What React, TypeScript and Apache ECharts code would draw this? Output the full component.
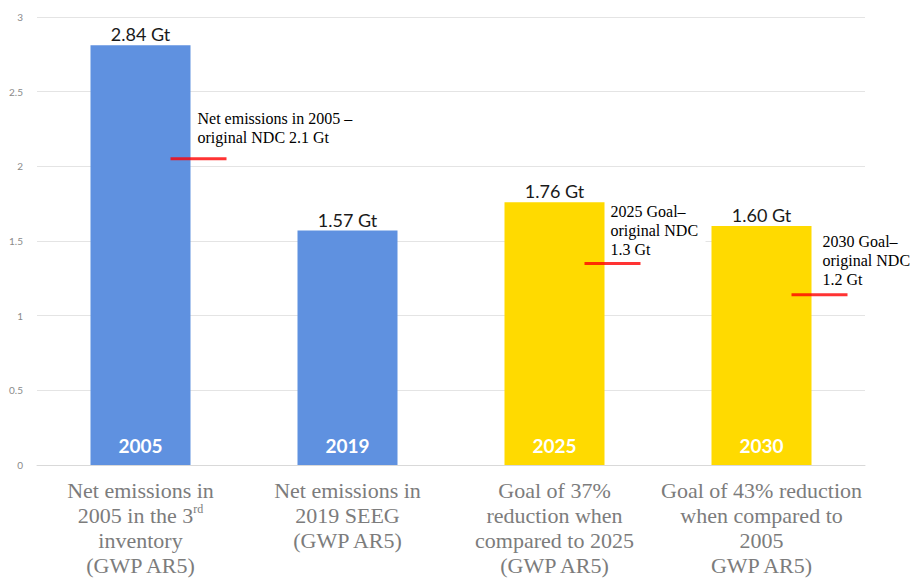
import React, { useEffect, useRef } from "react";
import * as echarts from "echarts";

const categories = [
  "Net emissions in\n2005 in the 3rd\ninventory\n(GWP AR5)",
  "Net emissions in\n2019 SEEG\n(GWP AR5)",
  "Goal of 37%\nreduction when\ncompared to 2025\n(GWP AR5)",
  "Goal of 43% reduction\nwhen compared to\n2005\nGWP AR5)",
];
const barValues = [2.81, 1.57, 1.76, 1.6];
const topLabels = ["2.84 Gt", "1.57 Gt", "1.76 Gt", "1.60 Gt"];
const yearLabels = ["2005", "2019", "2025", "2030"];
const barColors = ["#5F91E0", "#5F91E0", "#FFDA00", "#FFDA00"];
const ndcValues: (number | string)[] = [2.05, "-", 1.35, 1.14];
const ndcNotes = [
  "Net emissions in 2005 –\noriginal NDC 2.1 Gt",
  "",
  "2025 Goal–\noriginal NDC\n1.3 Gt",
  "2030 Goal–\noriginal NDC\n1.2 Gt",
];
const yTicks = { min: 0, max: 3, interval: 0.5 };

// annotation text offsets relative to each red marker centre
const noteOffsets = [
  [-1, -50],
  [0, 0],
  [-2, -61],
  [3, -63],
];
// white text-box backgrounds (hide gridlines), relative to marker centre: [dx, dy, w, h]
const noteBoxes = [
  null,
  null,
  [-9, -60, 102, 55],
  [-9, -62, 56, 58],
];

export default function App() {
  const ref = useRef<HTMLDivElement>(null);
  useEffect(() => {
    document.body.style.margin = "0";
    const chart = echarts.init(ref.current!, null, { renderer: "svg" });
    chart.setOption({
      animation: false,
      backgroundColor: "#ffffff",
      grid: { left: 37, right: 45, top: 17, bottom: 111 },
      xAxis: {
        type: "category",
        data: categories,
        axisLine: { lineStyle: { color: "#d9d9d9" } },
        axisTick: { show: false },
        axisLabel: {
          interval: 0,
          margin: 13,
          color: "#7c7c7c",
          fontFamily: "Liberation Serif",
          fontSize: 22,
          lineHeight: 25,
          formatter: (v: string) => v.replace("3rd", "3{sup|rd}"),
          rich: {
            sup: {
              fontSize: 12,
              lineHeight: 14,
              verticalAlign: "top",
              color: "#7c7c7c",
              fontFamily: "Liberation Serif",
            },
          },
        },
      },
      yAxis: {
        type: "value",
        min: yTicks.min,
        max: yTicks.max,
        interval: yTicks.interval,
        axisLine: { show: false },
        axisTick: { show: false },
        axisLabel: {
          color: "#8a8a8a",
          fontSize: 10,
          fontFamily: "Lato",
          margin: 14,
        },
        splitLine: { lineStyle: { color: "#e4e4e4" } },
      },
      series: [
        {
          type: "bar",
          barWidth: 100,
          z: 2,
          data: barValues.map((v, i) => ({
            value: v,
            itemStyle: { color: barColors[i] },
          })),
          label: {
            show: true,
            position: "top",
            distance: 2,
            formatter: (p: any) => topLabels[p.dataIndex],
            fontFamily: "Lato",
            fontSize: 18,
            color: "#1a1a1a",
          },
        },
        {
          type: "bar",
          barWidth: 100,
          barGap: "-100%",
          silent: true,
          z: 3,
          data: barValues,
          itemStyle: { color: "rgba(0,0,0,0)" },
          label: {
            show: true,
            position: "insideBottom",
            distance: 10,
            formatter: (p: any) => yearLabels[p.dataIndex],
            fontFamily: "Lato",
            fontWeight: "bold",
            fontSize: 19,
            color: "#ffffff",
          },
        },
        {
          type: "scatter",
          symbol: "rect",
          symbolSize: [56, 3],
          symbolOffset: [58, 0],
          itemStyle: { color: "#FF0000" },
          data: ndcValues,
          z: 5,
        },
      ],
    });

    const graphics: any[] = [];
    ndcValues.forEach((v, i) => {
      if (typeof v !== "number" || !ndcNotes[i]) return;
      const p = chart.convertToPixel({ seriesIndex: 2 }, [i, v]) as number[];
      const cx = p[0] + 58;
      const cy = p[1];
      const box = noteBoxes[i];
      if (box) {
        graphics.push({
          type: "rect",
          shape: { x: cx + box[0], y: cy + box[1], width: box[2], height: box[3] },
          style: { fill: "#ffffff" },
          z: 1,
          silent: true,
        });
      }
      graphics.push({
        type: "text",
        x: cx + noteOffsets[i][0],
        y: cy + noteOffsets[i][1],
        style: {
          text: ndcNotes[i],
          fontFamily: "Liberation Serif",
          fontSize: 16,
          lineHeight: 19,
          fill: "#000000",
          align: "left",
          verticalAlign: "top",
        },
        z: 10,
      });
    });
    chart.setOption({ graphic: graphics });

    return () => chart.dispose();
  }, []);
  return <div ref={ref} style={{ width: 910, height: 578 }} />;
}
